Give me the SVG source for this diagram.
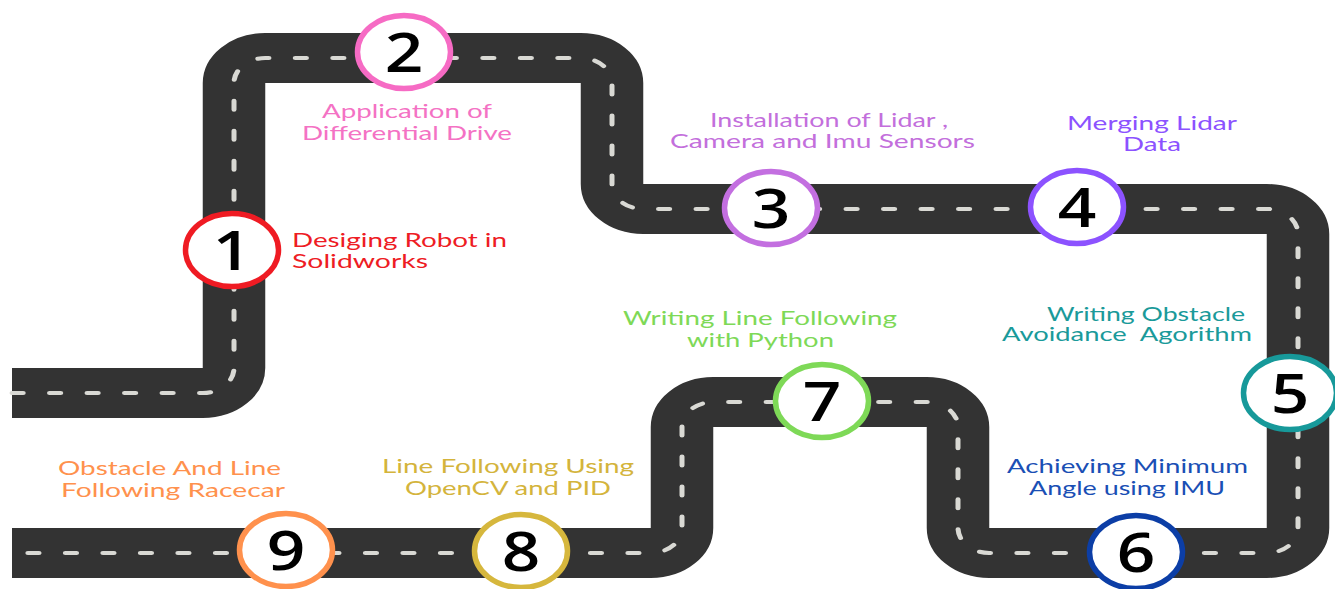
<svg xmlns="http://www.w3.org/2000/svg" width="1335" height="589" viewBox="0 0 1335 589">
<style>
.road{fill:none;stroke:#333333;stroke-width:50;stroke-linejoin:round}
.dash{fill:none;stroke:#d9d9d4;stroke-width:4;stroke-dasharray:9 21;stroke-linecap:round}
.ring{fill:#ffffff;stroke-width:5.5}
.num{font-family:"Open Sans","Noto Sans",sans-serif;font-weight:600;font-size:54px;fill:#000000;text-anchor:middle}
.lbl{font-family:Lato,"Liberation Sans",sans-serif;font-size:20px}
</style>
<rect width="1335" height="589" fill="#ffffff"/>
<g id="connectors" transform="scale(1.25,1)">
<path id="roadpath" class="road" d="M 9.6 393 H 162.2 A 25 25 0 0 0 187.2 368 V 83 A 25 25 0 0 1 212.2 58 H 464.6 A 25 25 0 0 1 489.6 83 V 184 A 25 25 0 0 0 514.6 209 H 1013.4 A 25 25 0 0 1 1038.4 234 V 528 A 25 25 0 0 1 1013.4 553 H 791.4 A 25 25 0 0 1 766.4 528 V 427 A 25 25 0 0 0 741.4 402 H 570.6 A 25 25 0 0 0 545.6 427 V 528 A 25 25 0 0 1 520.6 553 H 9.6"/>
<path class="dash" d="M 9.6 393 H 162.2 A 25 25 0 0 0 187.2 368 V 83 A 25 25 0 0 1 212.2 58 H 464.6 A 25 25 0 0 1 489.6 83 V 184 A 25 25 0 0 0 514.6 209 H 1013.4 A 25 25 0 0 1 1038.4 234 V 528 A 25 25 0 0 1 1013.4 553 H 791.4 A 25 25 0 0 1 766.4 528 V 427 A 25 25 0 0 0 741.4 402 H 570.6 A 25 25 0 0 0 545.6 427 V 528 A 25 25 0 0 1 520.6 553 H 9.6"/>
</g>
<g id="node1">
<ellipse class="ring" cx="232" cy="250" rx="46.5" ry="36.5" stroke="#ef1b23"/>
<text class="num" transform="translate(232,269.5) scale(1.25,1)">1</text>
<text class="lbl" fill="#ee1c24"><tspan x="292" y="247" textLength="215" lengthAdjust="spacingAndGlyphs">Desiging Robot in</tspan><tspan x="292" y="268" textLength="136" lengthAdjust="spacingAndGlyphs">Solidworks</tspan></text>
</g>
<g id="node2">
<ellipse class="ring" cx="404" cy="52" rx="46.5" ry="36.5" stroke="#f66bc4"/>
<text class="num" transform="translate(404,71.5) scale(1.25,1)">2</text>
<text class="lbl" fill="#f472c4"><tspan x="322" y="118" textLength="170" lengthAdjust="spacingAndGlyphs">Application of</tspan><tspan x="302" y="140" textLength="210" lengthAdjust="spacingAndGlyphs">Differential Drive</tspan></text>
</g>
<g id="node3">
<ellipse class="ring" cx="771" cy="208" rx="46.5" ry="36.5" stroke="#c36fe0"/>
<text class="num" transform="translate(771,227.5) scale(1.25,1)">3</text>
<text class="lbl" fill="#c36fdc"><tspan x="710" y="127" textLength="238" lengthAdjust="spacingAndGlyphs">Installation of Lidar ,</tspan><tspan x="670" y="148" textLength="305" lengthAdjust="spacingAndGlyphs">Camera and Imu Sensors</tspan></text>
</g>
<g id="node4">
<ellipse class="ring" cx="1077" cy="207" rx="46.5" ry="36.5" stroke="#8c52ff"/>
<text class="num" transform="translate(1077,226.5) scale(1.25,1)">4</text>
<text class="lbl" fill="#8c52ff"><tspan x="1067" y="130" textLength="170" lengthAdjust="spacingAndGlyphs">Merging Lidar</tspan><tspan x="1123" y="151" textLength="58" lengthAdjust="spacingAndGlyphs">Data</tspan></text>
</g>
<g id="node5">
<ellipse class="ring" cx="1290" cy="393" rx="46.5" ry="36.5" stroke="#17999a"/>
<text class="num" transform="translate(1290,412.5) scale(1.25,1)">5</text>
<text class="lbl" fill="#1a9a9a" style="white-space:pre"><tspan x="1047" y="321" textLength="198" lengthAdjust="spacingAndGlyphs">Writing Obstacle</tspan><tspan x="1002" y="341" textLength="250" lengthAdjust="spacingAndGlyphs">Avoidance  Agorithm</tspan></text>
</g>
<g id="node6">
<ellipse class="ring" cx="1136" cy="552" rx="46.5" ry="36.5" stroke="#0c3ea6"/>
<text class="num" transform="translate(1136,571.5) scale(1.25,1)">6</text>
<text class="lbl" fill="#1a4fb5"><tspan x="1007" y="473" textLength="241" lengthAdjust="spacingAndGlyphs">Achieving Minimum</tspan><tspan x="1029" y="495" textLength="196" lengthAdjust="spacingAndGlyphs">Angle using IMU</tspan></text>
</g>
<g id="node7">
<ellipse class="ring" cx="822" cy="401" rx="46.5" ry="36.5" stroke="#7ed957"/>
<text class="num" transform="translate(822,420.5) scale(1.25,1)">7</text>
<text class="lbl" fill="#7ed957"><tspan x="623" y="325" textLength="274" lengthAdjust="spacingAndGlyphs">Writing Line Following</tspan><tspan x="687" y="347" textLength="147" lengthAdjust="spacingAndGlyphs">with Python</tspan></text>
</g>
<g id="node8">
<ellipse class="ring" cx="521" cy="551" rx="46.5" ry="36.5" stroke="#d6b73d"/>
<text class="num" transform="translate(521,570.5) scale(1.25,1)">8</text>
<text class="lbl" fill="#d4b43c"><tspan x="382" y="473" textLength="252" lengthAdjust="spacingAndGlyphs">Line Following Using</tspan><tspan x="405" y="495" textLength="206" lengthAdjust="spacingAndGlyphs">OpenCV and PID</tspan></text>
</g>
<g id="node9">
<ellipse class="ring" cx="286" cy="550" rx="46.5" ry="36.5" stroke="#ff914d"/>
<text class="num" transform="translate(286,569.5) scale(1.25,1)">9</text>
<text class="lbl" fill="#ff914d"><tspan x="58" y="475" textLength="223" lengthAdjust="spacingAndGlyphs">Obstacle And Line</tspan><tspan x="61" y="497" textLength="224" lengthAdjust="spacingAndGlyphs">Following Racecar</tspan></text>
</g>
</svg>
